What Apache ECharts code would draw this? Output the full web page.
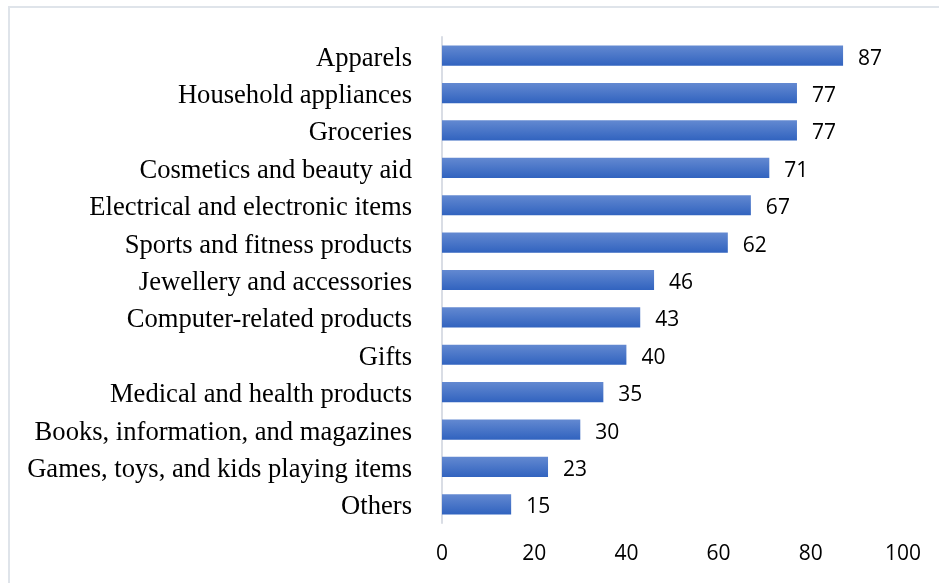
<!DOCTYPE html>
<html>
<head>
<meta charset="utf-8">
<script src="https://cdn.jsdelivr.net/npm/echarts@6/dist/echarts.min.js"></script>
<style>
  html, body { margin: 0; padding: 0; background: #ffffff; }
  #chart { width: 939px; height: 583px; }
</style>
</head>
<body>
<div id="chart"></div>
<script>
// Product categories, listed top to bottom
const categories = [
  'Apparels',
  'Household appliances',
  'Groceries',
  'Cosmetics and beauty aid',
  'Electrical and electronic items',
  'Sports and fitness products',
  'Jewellery and accessories',
  'Computer-related products',
  'Gifts',
  'Medical and health products',
  'Books, information, and magazines',
  'Games, toys, and kids playing items',
  'Others'
];
const values = [87, 77, 77, 71, 67, 62, 46, 43, 40, 35, 30, 23, 15];
const xTicks = [0, 20, 40, 60, 80, 100];

const chart = echarts.init(document.getElementById('chart'), null, { renderer: 'canvas' });

// Category axis runs bottom-up, so reverse for top-down reading order
const yCats = categories.slice().reverse();
const yVals = values.slice().reverse();

chart.setOption({
  animation: false,
  backgroundColor: '#ffffff',
  graphic: [{
    type: 'rect',
    shape: { x: 9, y: 7, width: 1000, height: 700 },
    style: { fill: 'none', stroke: '#dfe4ea', lineWidth: 2 },
    silent: true,
    z: -1
  }],
  grid: { left: 442, right: 36, top: 37, bottom: 60 },
  xAxis: {
    type: 'value',
    min: xTicks[0],
    max: xTicks[xTicks.length - 1],
    interval: xTicks[1] - xTicks[0],
    splitLine: { show: false },
    axisLine: { show: false },
    axisTick: { show: false },
    axisLabel: {
      color: '#000000',
      fontFamily: 'Open Sans',
      fontSize: 21,
      margin: 21
    }
  },
  yAxis: {
    type: 'category',
    data: yCats,
    axisLine: { show: true, lineStyle: { color: '#d9dde5', width: 2 } },
    axisTick: { show: false },
    axisLabel: {
      margin: 30,
      formatter: '{c|{value}}',
      rich: {
        c: {
          color: '#000000',
          fontFamily: 'Liberation Serif',
          fontSize: 26.6,
          padding: [6, 0, 0, 0]
        }
      }
    }
  },
  series: [{
    type: 'bar',
    data: yVals,
    barCategoryGap: '46%',
    itemStyle: {
      color: new echarts.graphic.LinearGradient(0, 0, 0, 1, [
        { offset: 0, color: '#6389d1' },
        { offset: 1, color: '#3163bf' }
      ])
    },
    label: {
      show: true,
      position: 'right',
      distance: 15,
      offset: [0, 3],
      color: '#000000',
      fontFamily: 'Open Sans',
      fontSize: 21
    }
  }]
});
</script>
</body>
</html>
